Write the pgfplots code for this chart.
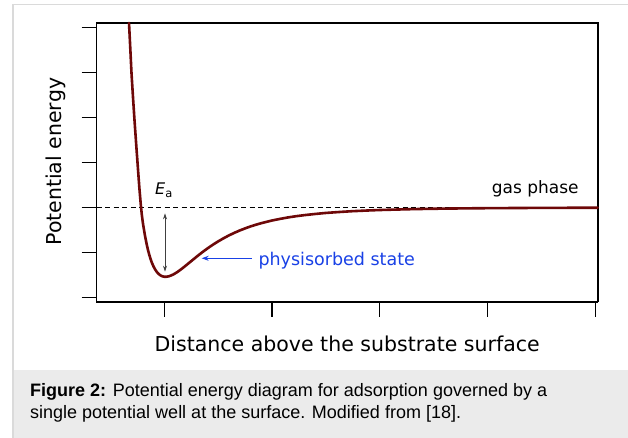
\documentclass[border=0pt]{standalone}
\usepackage{fontspec}
\setmainfont{DejaVu Sans}
\newfontfamily\capfont{Liberation Sans}
\usepackage{pgfplots}
\pgfplotsset{compat=1.18}
\usetikzlibrary{arrows.meta}
\definecolor{curvecol}{RGB}{110,8,8}
\definecolor{annblue}{RGB}{25,65,230}
\definecolor{capgrey}{RGB}{235,235,235}
\definecolor{framegrey}{RGB}{218,218,218}
\begin{document}
\begin{tikzpicture}[x=1pt,y=1pt]
\useasboundingbox (0,0) rectangle (628,438);
\fill[white] (0,0) rectangle (628,438);
\fill[capgrey] (13,0) rectangle (628,68);
\draw[framegrey, line width=1.5pt] (13,0) -- (13,433.7) -- (628,433.7);
\draw[black, line width=1.8pt] (96.7,415) -- (597.7,415) -- (597.7,136);
\begin{axis}[name=ax, at={(96.7pt,136pt)}, anchor=south west, scale only axis,
  width=501pt, height=279pt,
  xmin=0.372, xmax=5.024, ymin=-2.1, ymax=4.1,
  xtick={1,2,3,4,5}, ytick={-2,-1,0,1,2,3,4},
  xticklabels={}, yticklabels={},
  tick align=outside, tick pos=left, major tick length=15pt,
  axis line style={line width=1.2pt},
  every tick/.style={black, line width=1.2pt},
  clip=false]
\addplot[black, line width=1.1pt, dash pattern=on 5pt off 3.5pt] coordinates {(0.372,0) (5.024,0)};
\addplot[curvecol, line width=2.6pt, line join=round, line cap=round] coordinates {
(0.672,4.10) (0.684,3.53) (0.695,2.99) (0.709,2.45) (0.723,1.94) (0.740,1.36) (0.756,0.83)
(0.768,0.44) (0.780,0.10) (0.790,-0.14) (0.800,-0.33) (0.810,-0.48) (0.820,-0.62) (0.830,-0.745)
(0.840,-0.86) (0.850,-0.96) (0.860,-1.049) (0.870,-1.127) (0.880,-1.198) (0.890,-1.258)
(0.900,-1.312) (0.910,-1.357) (0.920,-1.397) (0.930,-1.430) (0.940,-1.459) (0.950,-1.482)
(0.960,-1.501) (0.970,-1.516) (0.980,-1.527) (0.995,-1.537) (1.011,-1.540) (1.025,-1.537)
(1.040,-1.530) (1.060,-1.513) (1.080,-1.492) (1.100,-1.465) (1.120,-1.435) (1.140,-1.401)
(1.160,-1.365) (1.180,-1.328) (1.200,-1.289) (1.225,-1.240) (1.250,-1.191) (1.275,-1.142)
(1.300,-1.093) (1.330,-1.036) (1.360,-0.981) (1.390,-0.928) (1.420,-0.877) (1.460,-0.813)
(1.500,-0.753) (1.550,-0.684) (1.600,-0.620) (1.650,-0.563) (1.700,-0.511) (1.750,-0.464)
(1.800,-0.421) (1.850,-0.383) (1.900,-0.349) (1.950,-0.318) (2.000,-0.289) (2.075,-0.253)
(2.150,-0.220) (2.225,-0.193) (2.300,-0.170) (2.400,-0.144) (2.500,-0.121) (2.625,-0.100)
(2.750,-0.0815) (2.875,-0.068) (3.000,-0.056) (3.150,-0.046) (3.300,-0.0368) (3.450,-0.030)
(3.600,-0.0248) (3.800,-0.019) (4.000,-0.0152) (4.250,-0.0115) (4.500,-0.0087) (4.750,-0.0067)
(5.024,-0.0051)};
\end{axis}
\draw[{Stealth[length=6pt,width=4pt]}-{Stealth[length=6pt,width=4pt]}, line width=0.8pt, black!75] (165,224.7) -- (165,166.3);
\draw[-{Stealth[length=7pt,width=5pt]}, annblue, line width=1pt] (251.7,179.7) -- (201.7,179.7);
\node[anchor=base west, inner sep=0, font=\fontsize{16}{16}\selectfont] at (155,243) {\textit{E}\raisebox{-3pt}{\fontsize{11.5}{12}\selectfont a}};
\node[anchor=base west, inner sep=0, font=\fontsize{17}{17}\selectfont] at (491.7,244.7) {gas phase};
\node[anchor=base west, inner sep=0, text=annblue, font=\fontsize{17.5}{17.5}\selectfont] at (258.3,172) {physisorbed state};
\node[anchor=base, inner sep=0, font=\fontsize{20.5}{20.5}\selectfont] at (347.2,86.3) {Distance above the substrate surface};
\node[anchor=base, inner sep=0, rotate=90, font=\fontsize{20.5}{20.5}\selectfont] at (61.7,276.3) {Potential energy};
\node[anchor=base west, inner sep=0, font=\capfont\fontsize{18}{22}\selectfont] at (30,41) {\textbf{Figure 2:} Potential energy diagram for adsorption governed by a};
\node[anchor=base west, inner sep=0, font=\capfont\fontsize{18}{22}\selectfont] at (30,19) {single potential well at the surface. Modified from [18].};
\end{tikzpicture}
\end{document}
